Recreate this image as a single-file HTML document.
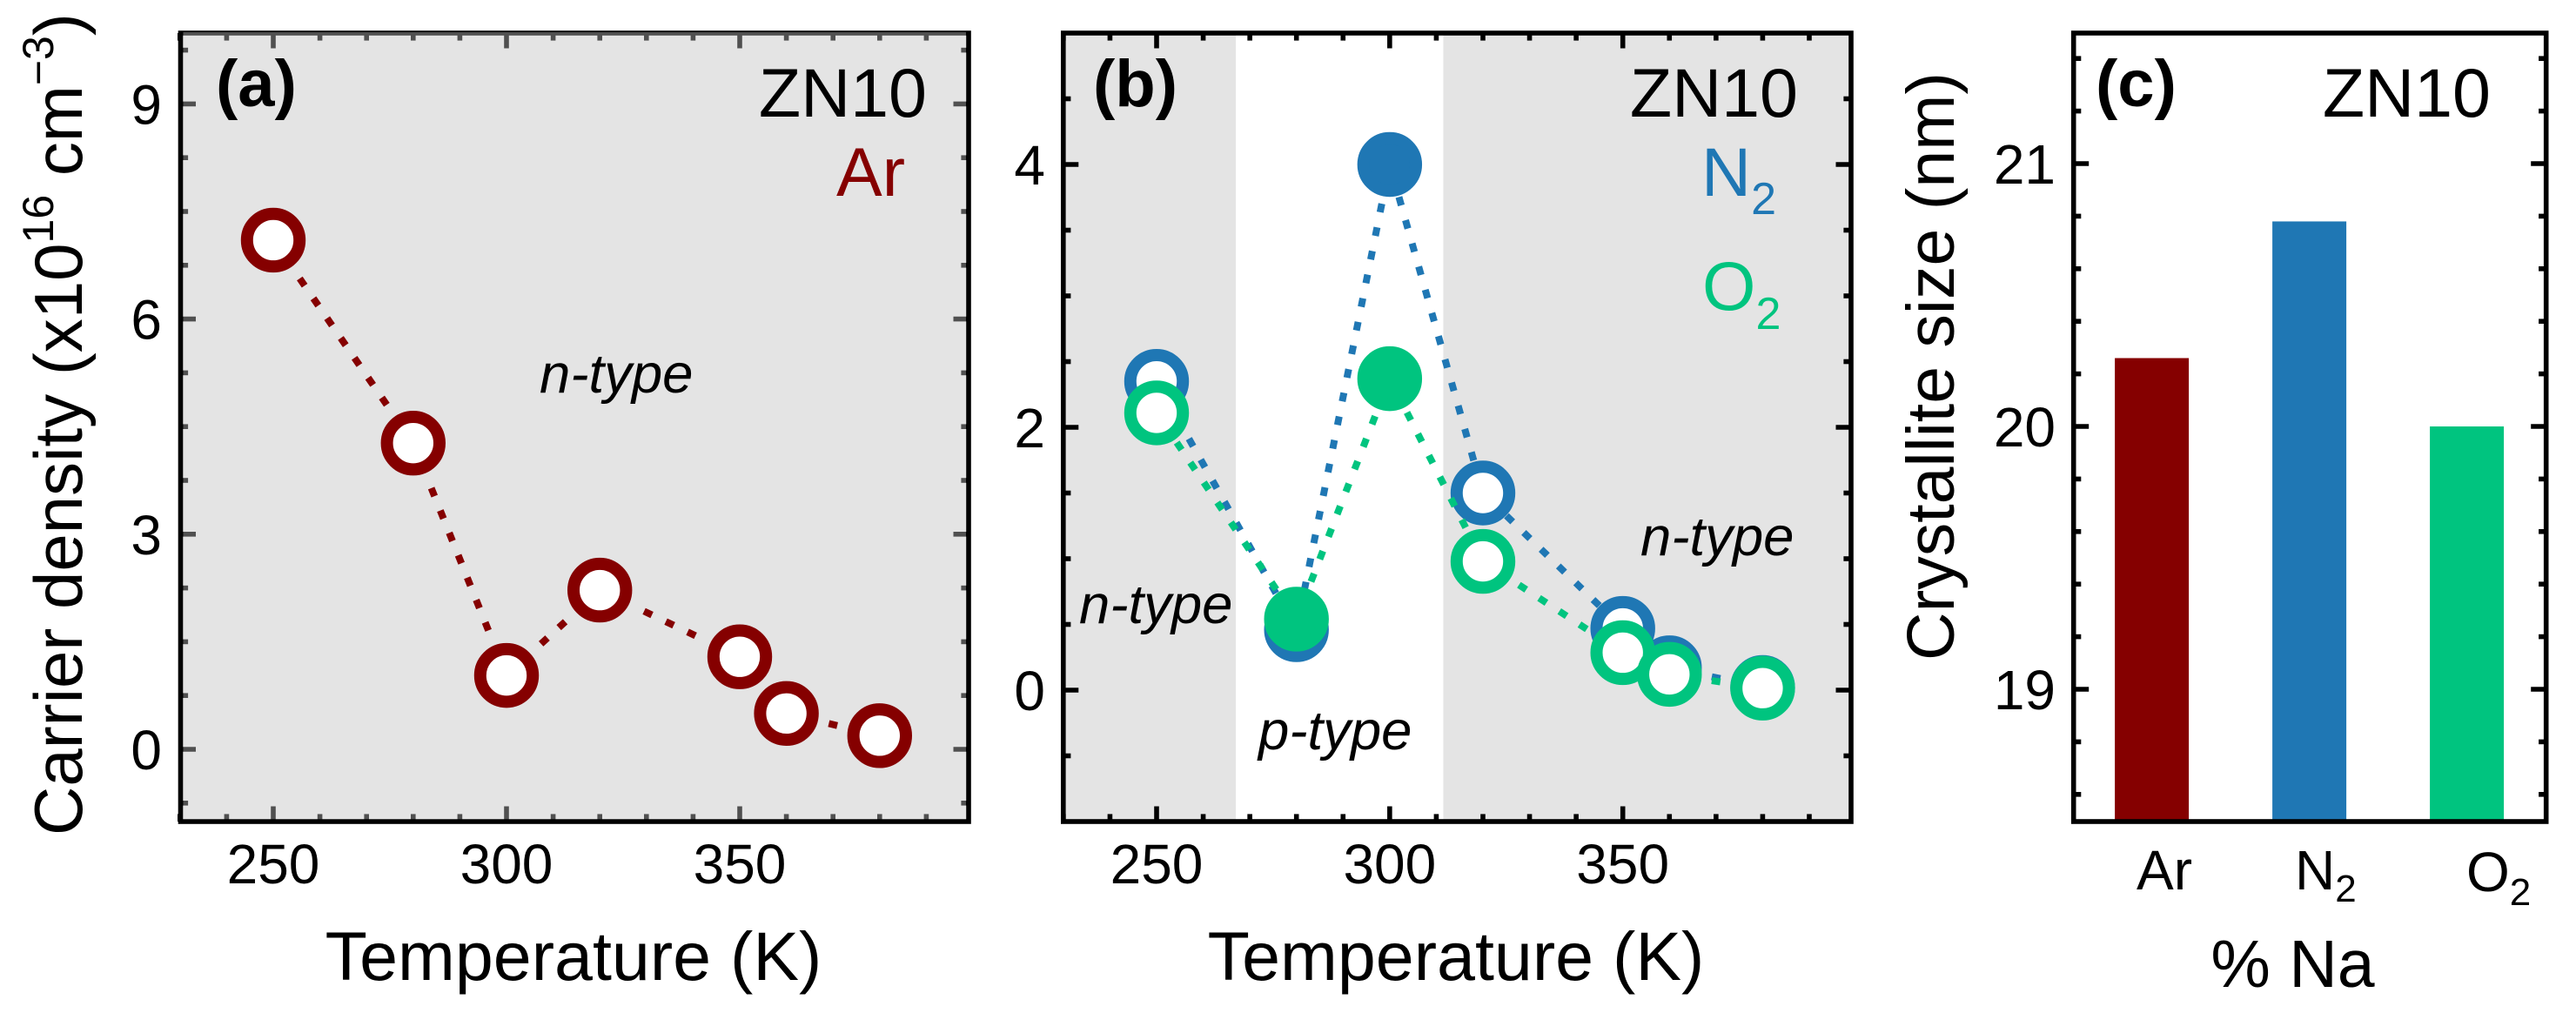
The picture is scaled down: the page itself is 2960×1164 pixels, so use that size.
<!DOCTYPE html>
<html lang="en">
<head>
<meta charset="utf-8">
<title>ZN10 carrier density and crystallite size</title>
<style>
html,body{margin:0;padding:0;background:#fff;width:2960px;height:1164px;overflow:hidden}
svg{display:block}
text{font-family:"Liberation Sans",sans-serif;fill:#000}
.tick{font-size:64px}
.title{font-size:79px}
.tag{font-size:76px;font-weight:bold}
.note{font-size:63.5px;font-style:italic}
</style>
</head>
<body>
<svg id="figure" xmlns="http://www.w3.org/2000/svg" width="2960" height="1164" viewBox="0 0 2960 1164">
  <g id="panel-a"></g>
  <g id="panel-b"></g>
  <g id="panel-c"></g>

  <g>
    <text class="tag" x="248" y="122">(a)</text>
    <text class="title" x="1065" y="134" text-anchor="end">ZN10</text>
    <text class="title" x="1040" y="225" text-anchor="end" style="fill:#850000">Ar</text>
    <text class="note" x="620" y="451">n-type</text>
    <text class="title" x="659" y="1126" text-anchor="middle">Temperature (K)</text>
    <text class="title" style="font-size:78px" transform="translate(94,960) rotate(-90)">Carrier density (x10<tspan font-size="50" dy="-33">16</tspan><tspan dy="33"> cm</tspan><tspan font-size="50" dy="-33">−3</tspan><tspan dy="33">)</tspan></text>
  </g>

  <g>
    <text class="tag" x="1256" y="122">(b)</text>
    <text class="title" x="2066" y="134" text-anchor="end">ZN10</text>
    <text class="title" x="1955" y="225" style="fill:#1f77b4">N<tspan font-size="52" dy="21">2</tspan></text>
    <text class="title" x="1956" y="356" style="fill:#00c47f">O<tspan font-size="52" dy="22">2</tspan></text>
    <text class="note" x="1240" y="716">n-type</text>
    <text class="note" x="1446" y="861">p-type</text>
    <text class="note" x="1885" y="638">n-type</text>
    <text class="title" x="1673" y="1126" text-anchor="middle">Temperature (K)</text>
  </g>

  <g>
    <text class="tag" x="2408" y="122">(c)</text>
    <text class="title" x="2862" y="134" text-anchor="end">ZN10</text>
    <text class="title" style="font-size:77px" x="2634.5" y="1134" text-anchor="middle">% Na</text>
    <text class="title" style="font-size:77px" transform="translate(2245,421) rotate(-90)" text-anchor="middle">Crystallite size (nm)</text>
    <text class="tick" x="2455" y="1022">Ar</text>
    <text class="tick" x="2637" y="1022">N<tspan font-size="44" dy="14">2</tspan></text>
    <text class="tick" x="2834" y="1024">O<tspan font-size="44" dy="16">2</tspan></text>
  </g>
</svg>

<script>
// ---- chart data ----
const temperatures = [250, 280, 300, 320, 350, 360, 380];
const arDensity = [7.1, 4.27, 1.03, 2.22, 1.29, 0.5, 0.19];
const n2Density = [2.35, 0.46, 4.0, 1.5, 0.47, 0.17, 0.02];
const o2Density = [2.11, 0.54, 2.37, 0.98, 0.285, 0.12, 0.015];
const pTypeTemperatures = [280, 300];
const pTypeRange = [267, 311.5];
const gasCategories = ['Ar', 'N2', 'O2'];
const crystalliteSize = [20.26, 20.78, 20.0];
const temperatureTicks = [250, 300, 350];
const densityTicksA = [0, 3, 6, 9];
const densityTicksB = [0, 2, 4];
const sizeTicks = [19, 20, 21];

// ---- axis functions ----
const xA = v => 314 + (v - 250) * 5.36;
const yA = v => 861 - v * 82.4;
const xB = v => 1329 + (v - 250) * 5.357;
const yB = v => 793 - v * 151;
const xC = i => 2472.6 + i * 181;
const yC = v => 490 - (v - 20) * 302;

const boxA = { l: 207.5, r: 1113, t: 38, b: 944 };
const boxB = { l: 1221.8, r: 2127, t: 38, b: 944 };
const boxC = { l: 2382.7, r: 2925.7, t: 38, b: 944 };

const SVGNS = 'http://www.w3.org/2000/svg';
const DARK_RED = '#850000';
const BLUE = '#1f77b4';
const GREEN = '#00c47f';
const MARKER_R = 30.2;
const MARKER_W = 14;
const DASH = 10;
const GAP = 17.7;

function mk(parent, tag, attrs) {
  const el = document.createElementNS(SVGNS, tag);
  for (const k in attrs) el.setAttribute(k, attrs[k]);
  parent.appendChild(el);
  return el;
}

function frame(parent, box, panel) {
  const el = mk(parent, 'rect', { x: box.l, y: box.t, width: box.r - box.l, height: box.b - box.t, fill: 'none', stroke: '#000', 'stroke-width': 5.6 });
  
  
}

function tickMark(parent, x1, y1, x2, y2, name) {
  const el = mk(parent, 'line', { x1: x1, y1: y1, x2: x2, y2: y2, stroke: '#000', 'stroke-width': 5.6 });
  
  
}

function xTicks(parent, box, sx, panel) {
  for (let v = 230; v <= 399; v += 10) {
    const major = v % 50 === 0;
    const len = major ? 17.5 : 8.6;
    const x = sx(v);
    tickMark(parent, x, box.b, x, box.b - len, panel + '-x-tick-bottom');
    tickMark(parent, x, box.t, x, box.t + len, panel + '-x-tick-top');
  }
}

function yTicks(parent, box, sy, from, to, step, majorEvery, panel) {
  const count = Math.round((to - from) / step);
  for (let i = 0; i <= count; i++) {
    const v = from + i * step;
    const major = Math.abs(v / majorEvery - Math.round(v / majorEvery)) < 1e-6;
    const len = major ? 17.5 : 8.6;
    const y = sy(v);
    tickMark(parent, box.l, y, box.l + len, y, panel + '-y-tick-left');
    tickMark(parent, box.r, y, box.r - len, y, panel + '-y-tick-right');
  }
}

function tickLabel(parent, x, y, anchor, value, name) {
  const el = mk(parent, 'text', { x: x, y: y, 'text-anchor': anchor, class: 'tick' });
  el.textContent = value;
  
  
}

// each segment is trimmed back from its symbols, dashes centred in what is left
function dottedLine(parent, xs, ys, sx, sy, color, symbolGap, name) {
  for (let i = 0; i < xs.length - 1; i++) {
    const x1 = sx(xs[i]), y1 = sy(ys[i]), x2 = sx(xs[i + 1]), y2 = sy(ys[i + 1]);
    const len = Math.hypot(x2 - x1, y2 - y1);
    const n = Math.floor((len - 2 * symbolGap + GAP) / (DASH + GAP));
    if (n < 1) continue;
    const span = n * DASH + (n - 1) * GAP;
    const inset = (len - span) / 2;
    const ux = (x2 - x1) / len, uy = (y2 - y1) / len;
    const seg = mk(parent, 'line', {
      x1: x1 + ux * inset, y1: y1 + uy * inset,
      x2: x2 - ux * inset, y2: y2 - uy * inset,
      stroke: color, 'stroke-width': 8, 'stroke-dasharray': DASH + ' ' + GAP
    });
    
    
  }
}

function marker(parent, x, y, color, filled, name) {
  const el = mk(parent, 'circle', {
    cx: x, cy: y, r: MARKER_R,
    fill: filled ? color : '#fff', stroke: color, 'stroke-width': MARKER_W
  });
  
  
}

// ---- panel a ----
const panelA = document.getElementById('panel-a');
frame(panelA, boxA, 'panel-a');
xTicks(panelA, boxA, xA, 'panel-a');
yTicks(panelA, boxA, yA, -0.75, 9.75, 0.75, 3, 'panel-a');
const overlayA = mk(panelA, 'rect', { x: 210.5, y: 37, width: 899.5, height: 904.3, fill: 'rgb(190,190,190)', 'fill-opacity': 0.42 });


temperatureTicks.forEach(t => tickLabel(panelA, xA(t), 1015, 'middle', t, 'panel-a-x-tick-label'));
densityTicksA.forEach(v => tickLabel(panelA, 186, yA(v) + 23, 'end', v, 'panel-a-y-tick-label'));
dottedLine(panelA, temperatures, arDensity, xA, yA, DARK_RED, 46, 'ar-dotted-line');
temperatures.forEach((t, i) => marker(panelA, xA(t), yA(arDensity[i]), DARK_RED, false, 'ar-point'));

// ---- panel b ----
const panelB = document.getElementById('panel-b');
const shadeLeft = mk(panelB, 'rect', { x: boxB.l, y: boxB.t, width: xB(pTypeRange[0]) - boxB.l, height: boxB.b - boxB.t, fill: '#e4e4e4' });


const shadeRight = mk(panelB, 'rect', { x: xB(pTypeRange[1]), y: boxB.t, width: boxB.r - xB(pTypeRange[1]), height: boxB.b - boxB.t, fill: '#e4e4e4' });


frame(panelB, boxB, 'panel-b');
xTicks(panelB, boxB, xB, 'panel-b');
yTicks(panelB, boxB, yB, -0.5, 4.5, 0.5, 2, 'panel-b');
temperatureTicks.forEach(t => tickLabel(panelB, xB(t), 1015, 'middle', t, 'panel-b-x-tick-label'));
densityTicksB.forEach(v => tickLabel(panelB, 1201, yB(v) + 23, 'end', v, 'panel-b-y-tick-label'));
dottedLine(panelB, temperatures, n2Density, xB, yB, BLUE, 37.5, 'n2-dotted-line');
temperatures.forEach((t, i) => marker(panelB, xB(t), yB(n2Density[i]), BLUE, pTypeTemperatures.includes(t), 'n2-point'));
dottedLine(panelB, temperatures, o2Density, xB, yB, GREEN, 37.5, 'o2-dotted-line');
temperatures.forEach((t, i) => marker(panelB, xB(t), yB(o2Density[i]), GREEN, pTypeTemperatures.includes(t), 'o2-point'));

// ---- panel c ----
const panelC = document.getElementById('panel-c');
const barColors = [DARK_RED, BLUE, GREEN];
gasCategories.forEach((g, i) => {
  const top = yC(crystalliteSize[i]);
  const bar = mk(panelC, 'rect', { x: xC(i) - 42.5, y: top, width: 85, height: boxC.b - top, fill: barColors[i] });
  
  
});
frame(panelC, boxC, 'panel-c');
yTicks(panelC, boxC, yC, 18.6, 21.4, 0.2, 1, 'panel-c');
sizeTicks.forEach(v => tickLabel(panelC, 2362, yC(v) + 23, 'end', v, 'panel-c-y-tick-label'));
</script>
</body>
</html>
